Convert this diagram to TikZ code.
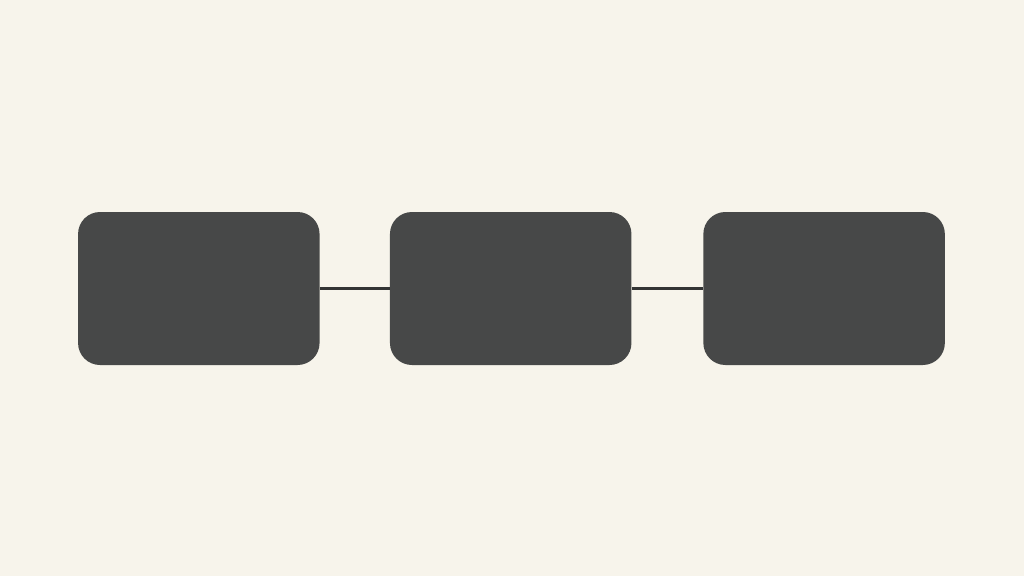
\documentclass[tikz,border=0pt]{standalone}
\usetikzlibrary{positioning}

\definecolor{paper}{HTML}{F7F4EB}
\definecolor{slate}{HTML}{474848}
\definecolor{wire}{HTML}{333434}

\begin{document}
\begin{tikzpicture}[
    x = 1pt, y = -1pt,
    line join=round,
    boxstyle/.style = {fill=slate, rounded corners=22pt, inner sep=0pt,
        minimum width=241.5pt, minimum height=153pt},
    linkstyle/.style = {wire, line width=2.4pt}
]

\fill[paper] (0, 0) rectangle (1024, 576);
\useasboundingbox (0, 0) rectangle (1024, 576);

\node[boxstyle] (left) at (198.8, 288.5) {};
\node[boxstyle, right=70pt of left] (middle) {};
\node[boxstyle, right=71.5pt of middle] (right) {};

\draw[linkstyle] (left) -- (middle);
\draw[linkstyle] (middle) -- (right);

\end{tikzpicture}
\end{document}
